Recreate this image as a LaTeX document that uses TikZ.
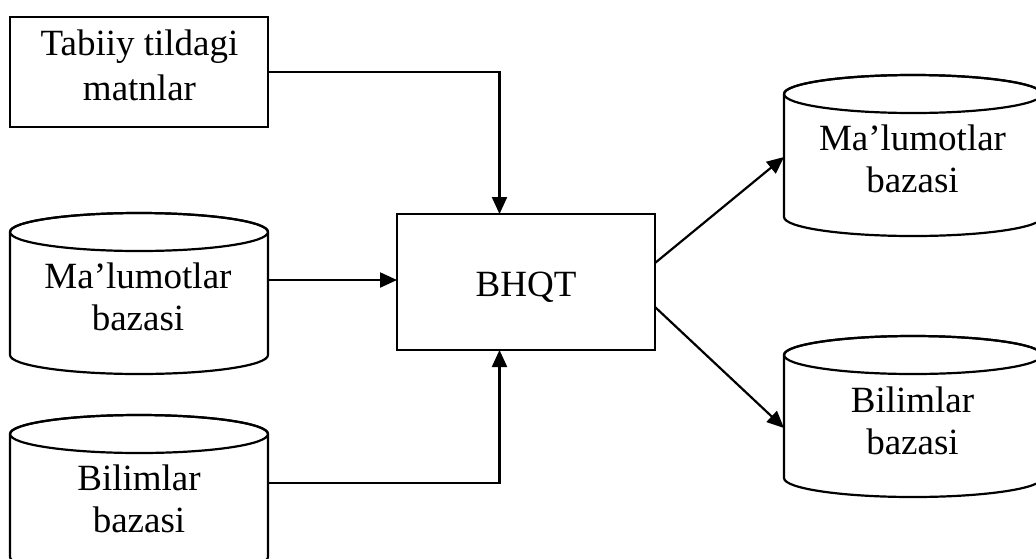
\documentclass[tikz,border=0pt]{standalone}
\usepackage{fontspec}
\setmainfont{Liberation Serif}
\usetikzlibrary{arrows.meta}
\tikzset{
  lw/.style={line width=2.2pt},
  body/.style={inner sep=0pt, outer sep=0pt, minimum width=258pt, minimum height=123pt},
  boxnode/.style={draw, lw, inner sep=0pt, outer sep=0pt},
  lbl/.style={inner sep=0pt, align=center, font=\fontsize{37}{42}\selectfont},
  arr/.style={lw, -{Triangle[length=17pt,width=15pt]}},
}
\newcommand{\cyl}[1]{%
  \draw[lw, fill=white] (#1.north west) -- (#1.south west)
    arc[start angle=180, end angle=360, x radius=129pt, y radius=19pt]
    -- (#1.north east) arc[start angle=0, end angle=180, x radius=129pt, y radius=19pt] -- cycle;
  \draw[lw] (#1.north) ellipse[x radius=129pt, y radius=19pt];
}
\begin{document}
\begin{tikzpicture}[x=1pt, y=-1pt]
\useasboundingbox[fill=white] (0,0) rectangle (1036,558);

% nodes
\node[boxnode, minimum width=258pt, minimum height=110pt] (txt) at (139,72) {};
\node[lbl, font=\fontsize{37}{45}\selectfont] (txtl) at (139.5,65) {Tabiiy tildagi\\matnlar};

\node[body] (m1) at (139,293.5) {};
\cyl{m1}
\node[lbl] (m1l) at (138,296.5) {Ma’lumotlar\\bazasi};

\node[body] (b1) at (139,495.5) {};
\cyl{b1}
\node[lbl] (b1l) at (139,498.5) {Bilimlar\\bazasi};

\node[boxnode, minimum width=258pt, minimum height=136pt] (q) at (526,282) {};
\node[lbl, anchor=base] (ql) at (526,296) {BHQT};

\node[body] (m2) at (913,155.5) {};
\cyl{m2}
\node[lbl] (m2l) at (912.5,158.5) {Ma’lumotlar\\bazasi};

\node[body] (b2) at (913,416.5) {};
\cyl{b2}
\node[lbl] (b2l) at (912.5,421) {Bilimlar\\bazasi};

% connectors
\coordinate (k1) at (499.5,72);
\draw[arr] (txt.east |- k1) -- (k1) -- (k1 |- q.north);

\coordinate (k2) at (0,280);
\draw[arr] (m1.east |- k2) -- (q.west |- k2);

\coordinate (k3) at (499.5,483);
\draw[arr] (b1.east |- k3) -- (k3) -- (k3 |- q.south);

\coordinate (k4) at (0,263);
\coordinate (k5) at (0,157);
\draw[arr] (q.east |- k4) -- (m2.west |- k5);

\coordinate (k6) at (0,307);
\coordinate (k7) at (0,428);
\draw[arr] (q.east |- k6) -- (b2.west |- k7);
\end{tikzpicture}
\end{document}
